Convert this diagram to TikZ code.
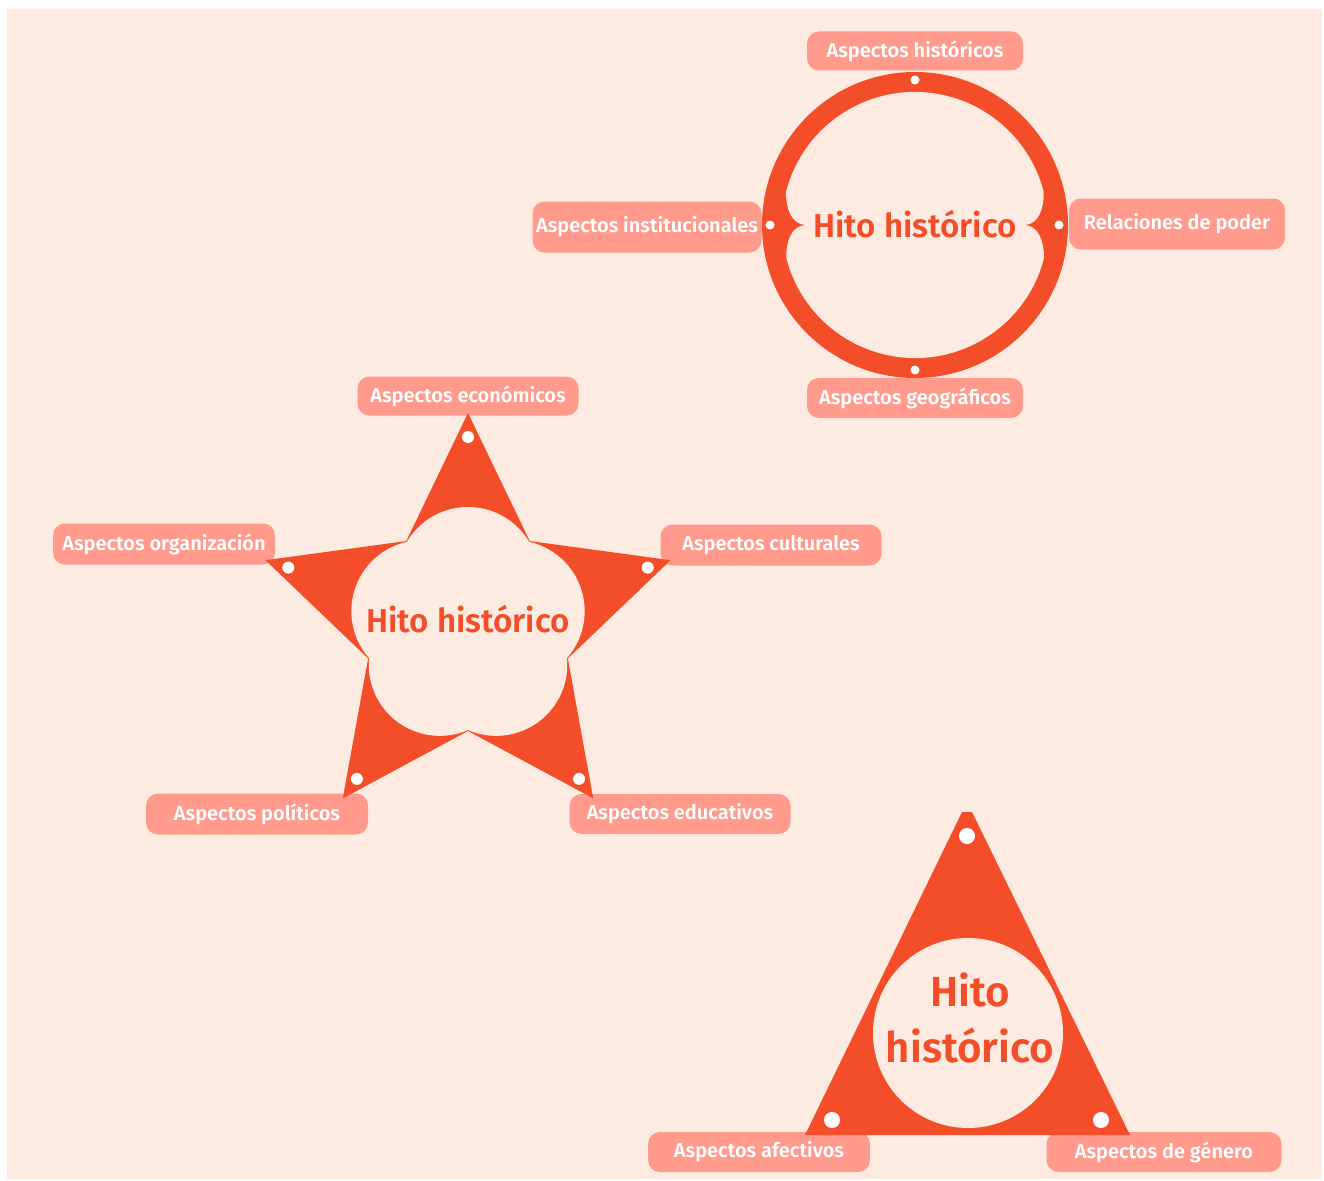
\documentclass[tikz,border=0pt]{standalone}
\usepackage{fontspec}
\setmainfont{Fira Sans}[BoldFont={* SemiBold}]
\definecolor{bgc}{HTML}{FDEBE1}
\definecolor{orng}{HTML}{F34E29}
\definecolor{pnk}{HTML}{FF9A8C}
\tikzset{
  lbl/.style={fill=pnk, rounded corners=12pt, inner sep=0pt, text=white,
    font=\fontsize{20}{23}\selectfont\bfseries, align=center},
  hito/.style={text=orng, inner sep=0pt, align=center},
  dotw/.style={fill=white},
}
\begin{document}
\begin{tikzpicture}[x=1pt,y=-1pt]
\useasboundingbox (0,0) rectangle (1324,1180);
\fill[white] (0,0) rectangle (1324,1180);
\fill[bgc] (7,9) rectangle (1322,1179);

% ---------- labels (behind shapes) ----------
\node[lbl, minimum width=216pt, minimum height=39pt] (hist) at (915,51) {Aspectos históricos};
\node[lbl, minimum width=216pt, minimum height=51pt] (rel) at (1177,224) {Relaciones de poder};
\node[lbl, minimum width=229pt, minimum height=51pt] (inst) at (647,227) {Aspectos institucionales};
\node[lbl, minimum width=216pt, minimum height=40pt] (geo) at (915,398) {Aspectos geográficos};

\node[lbl, minimum width=221pt, minimum height=39pt] (econ) at (468,396) {Aspectos económicos};
\node[lbl, minimum width=222pt, minimum height=41pt] (org) at (164,544) {Aspectos organización};
\node[lbl, minimum width=221pt, minimum height=41pt] (cult) at (771,545) {Aspectos culturales};
\node[lbl, minimum width=222pt, minimum height=41pt] (pol) at (257,814) {Aspectos políticos};
\node[lbl, minimum width=221pt, minimum height=40pt] (edu) at (680,814) {Aspectos educativos};

\node[lbl, minimum width=222pt, minimum height=40pt] (afec) at (759,1152) {Aspectos afectivos};
\node[lbl, minimum width=235pt, minimum height=40pt] (gen) at (1164,1152) {Aspectos de género};

% ---------- circle ----------
\fill[orng] (915,225) circle (153);
\fill[bgc] (805,225) .. controls (792,224) and (786,210) .. (786,192)
  arc[start angle=194.35, end angle=345.65, radius=133]
  .. controls (1044,210) and (1038,224) .. (1025,225)
  .. controls (1038,226) and (1044,240) .. (1044,258)
  arc[start angle=14.35, end angle=165.65, radius=133]
  .. controls (786,240) and (792,226) .. (805,225) -- cycle;
\foreach \p in {(915,80),(915,370),(770,225),(1059,225)}
  \fill[dotw] \p circle (4.5);
\node[hito, font=\fontsize{33}{38}\selectfont\bfseries] (c1) at (915,224) {Hito histórico};

% ---------- star ----------
\begin{scope}[shift={(468,626)}]
  \fill[orng] (-90:213) -- (-54:105) -- (-18:213) -- (18:105) -- (54:213)
    -- (90:105) -- (126:213) -- (162:105) -- (198:213) -- (234:105) -- cycle;
  \foreach \a in {-90,-18,54,126,198} {
    \fill[bgc] (\a:48) circle (71);
    \fill[dotw] (\a:189) circle (6);
  }
\end{scope}
\node[hito, font=\fontsize{33}{38}\selectfont\bfseries] (c2) at (468,619) {Hito histórico};

% ---------- triangle ----------
\fill[orng] (962,812) -- (972,812) -- (1130,1135) -- (805,1135) -- cycle;
\fill[bgc] (968,1033) circle (95);
\foreach \p in {(967,836),(832,1120),(1101,1120)}
  \fill[dotw] \p circle (8);
\node[hito, font=\fontsize{42}{56}\selectfont\bfseries] (c3) at (970,1018) {Hito\\histórico};
\end{tikzpicture}
\end{document}
